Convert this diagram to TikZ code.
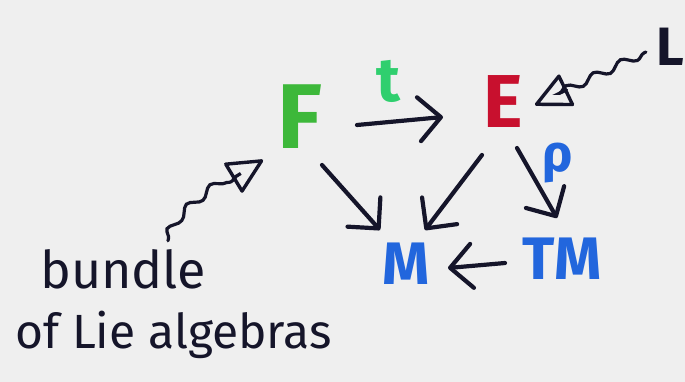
\documentclass[tikz,border=0pt]{standalone}
\usepackage{fontspec}
\setmainfont{Fira Sans}
\usetikzlibrary{arrows.meta,calc,decorations.pathmorphing}
\definecolor{bg}{HTML}{EFEFEF}
\definecolor{ink}{HTML}{15152A}
\definecolor{fgreen}{HTML}{3DB83A}
\definecolor{tgreen}{HTML}{2FCF6E}
\definecolor{ered}{HTML}{C8102E}
\definecolor{mblue}{HTML}{2266DD}
\tikzset{
  lbl/.style={inner sep=0pt, font=\fontsize{#1}{#1}\selectfont\bfseries},
  arr/.style={draw=ink, line width=4.2, line cap=round,
    -{Straight Barb[length=22,width=44,line width=4.2,round]}},
  wavy/.style={draw=ink, line width=3.2, line cap=round,
    decorate, decoration={snake, amplitude=4, segment length=30, pre length=2, post length=26},
    -{Triangle[open,length=38,width=36,line width=3.4,round]}},
  hand/.style={inner sep=0pt, text=ink, font=\fontsize{#1}{#1}\selectfont\mdseries}
}
\begin{document}
\begin{tikzpicture}[x=1pt,y=-1pt]
\fill[bg] (0,0) rectangle (685,382);
\useasboundingbox (0,0) rectangle (685,382);
\node[lbl=92, text=fgreen] (F) at (300,117) {F};
\node[lbl=75, text=ered] (E) at (503,102) {E};
\node[lbl=62, text=tgreen] (t) at (388,81) {t};
\node[lbl=54, text=ink, anchor=east] (L) at (684,47) {L};
\node[lbl=60, text=mblue] (M) at (406,264) {M};
\node[lbl=60, text=mblue] (TM) at (562,259) {TM};
\node[lbl=52, text=mblue] (rho) at (558,163) {ρ};
\node[hand=52, anchor=base west] (b1) at (40,288) {bundle};
\node[hand=48, anchor=base west] (b2) at (15,348) {of Lie algebras};
\draw[arr] ($(F.center)+(57,8)$) -- ($(E.center)+(-60,15)$);
\draw[arr] ($(F.center)+(22,48)$) -- ($(M.center)+(-26,-34)$);
\draw[arr] ($(E.center)+(-21,53)$) -- ($(M.center)+(19,-34)$);
\draw[arr] ($(E.center)+(14,46)$) -- ($(TM.center)+(-5,-41)$);
\draw[arr] ($(TM.center)+(-57,4)$) -- ($(M.center)+(42,4)$);
\draw[wavy] ($(L.west)+(-10,5)$) -- ($(E.center)+(32,3)$);
\draw[wavy] ($(b1.north west)+(128,-8)$) .. controls +(3,-22) and +(-35,20) .. ($(F.center)+(-37,43)$);
\end{tikzpicture}
\end{document}
